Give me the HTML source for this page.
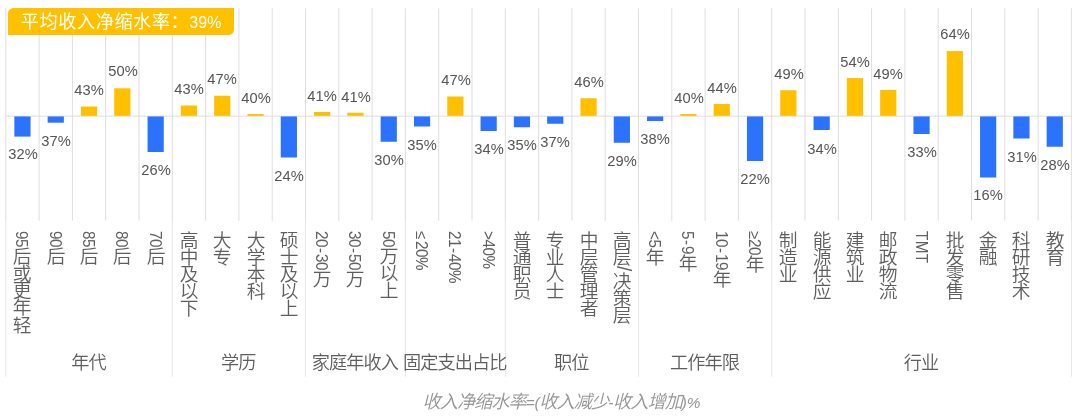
<!DOCTYPE html>
<html lang="zh-CN"><head><meta charset="utf-8"><title>收入净缩水率</title>
<style>
html,body{margin:0;padding:0;background:#fff;}
body{width:1080px;height:420px;position:relative;overflow:hidden;font-family:"Liberation Sans","Noto Sans CJK SC",sans-serif;color:#5e5e5e;}
svg{position:absolute;left:0;top:0;}
.w{position:absolute;left:0;top:0;width:1080px;height:420px;will-change:transform;}
.v{position:absolute;color:#555;font-size:15.3px;line-height:14px;width:60px;margin-left:-30px;text-align:center;white-space:nowrap;transform:scaleX(.96);}
.c{position:absolute;top:231.3px;writing-mode:vertical-rl;text-orientation:mixed;font-size:18.2px;line-height:20px;width:20px;margin-left:-10px;white-space:nowrap;font-weight:350;letter-spacing:-1.1px;transform:scaleX(1.03);}
.c .l{color:#606060;font-size:15.2px;letter-spacing:-0.4px;position:relative;left:1.4px;}
.c .h{margin:1.1px 0;}
.c .e{margin-bottom:2px;}
.c .t{letter-spacing:.4px;}
.c .s{font-size:19px;letter-spacing:1.4px;left:3px;}
.grp{position:absolute;top:352px;height:22px;line-height:22px;font-size:18.2px;letter-spacing:-0.9px;padding-right:1.2px;box-sizing:border-box;white-space:nowrap;font-weight:350;display:flex;justify-content:center;}
.badge{position:absolute;left:7.8px;top:7.9px;width:226.2px;height:27.2px;background:#FFC000;border-radius:5.5px 0 5.5px 0;color:#fff;font-size:18.2px;letter-spacing:.55px;line-height:27px;white-space:nowrap;font-weight:400;}
.badge span{position:absolute;left:12.9px;top:1px;}
.badge i{font-style:normal;font-size:16px;letter-spacing:0;}
.note{position:absolute;left:422.5px;top:391px;font-size:18.2px;letter-spacing:-1.0px;line-height:22px;font-style:italic;color:#959595;white-space:nowrap;font-weight:350;}
.note .l{font-size:15.4px;letter-spacing:-0.2px;}
</style></head><body><div class="w">
<svg width="1080" height="420" viewBox="0 0 1080 420">
<g fill="#DEDEDE">
<rect x="5.30" y="8.3" width="1" height="212.4"/>
<rect x="5.30" y="220.7" width="1" height="156.0" fill="#E6E6E6"/>
<rect x="38.60" y="8.3" width="1" height="212.4"/>
<rect x="71.90" y="8.3" width="1" height="212.4"/>
<rect x="105.20" y="8.3" width="1" height="212.4"/>
<rect x="138.50" y="8.3" width="1" height="212.4"/>
<rect x="171.80" y="8.3" width="1" height="212.4"/>
<rect x="171.80" y="220.7" width="1" height="156.0" fill="#E6E6E6"/>
<rect x="205.10" y="8.3" width="1" height="212.4"/>
<rect x="238.40" y="8.3" width="1" height="212.4"/>
<rect x="271.70" y="8.3" width="1" height="212.4"/>
<rect x="305.00" y="8.3" width="1" height="212.4"/>
<rect x="305.00" y="220.7" width="1" height="156.0" fill="#E6E6E6"/>
<rect x="338.30" y="8.3" width="1" height="212.4"/>
<rect x="371.60" y="8.3" width="1" height="212.4"/>
<rect x="404.90" y="8.3" width="1" height="212.4"/>
<rect x="404.90" y="220.7" width="1" height="156.0" fill="#E6E6E6"/>
<rect x="438.20" y="8.3" width="1" height="212.4"/>
<rect x="471.50" y="8.3" width="1" height="212.4"/>
<rect x="504.80" y="8.3" width="1" height="212.4"/>
<rect x="504.80" y="220.7" width="1" height="156.0" fill="#E6E6E6"/>
<rect x="538.10" y="8.3" width="1" height="212.4"/>
<rect x="571.40" y="8.3" width="1" height="212.4"/>
<rect x="604.70" y="8.3" width="1" height="212.4"/>
<rect x="638.00" y="8.3" width="1" height="212.4"/>
<rect x="638.00" y="220.7" width="1" height="156.0" fill="#E6E6E6"/>
<rect x="671.30" y="8.3" width="1" height="212.4"/>
<rect x="704.60" y="8.3" width="1" height="212.4"/>
<rect x="737.90" y="8.3" width="1" height="212.4"/>
<rect x="771.20" y="8.3" width="1" height="212.4"/>
<rect x="771.20" y="220.7" width="1" height="156.0" fill="#E6E6E6"/>
<rect x="804.50" y="8.3" width="1" height="212.4"/>
<rect x="837.80" y="8.3" width="1" height="212.4"/>
<rect x="871.10" y="8.3" width="1" height="212.4"/>
<rect x="904.40" y="8.3" width="1" height="212.4"/>
<rect x="937.70" y="8.3" width="1" height="212.4"/>
<rect x="971.00" y="8.3" width="1" height="212.4"/>
<rect x="1004.30" y="8.3" width="1" height="212.4"/>
<rect x="1037.60" y="8.3" width="1" height="212.4"/>
<rect x="1070.90" y="8.3" width="1" height="212.4"/>
<rect x="1070.90" y="220.7" width="1" height="156.0" fill="#E6E6E6"/>
<rect x="5.30" y="115.65" width="1066.60" height="1"/>
</g>
<g fill="#FFC000"><rect x="80.95" y="106.50" width="16.2" height="9.35"/><rect x="114.25" y="88.30" width="16.2" height="27.55"/><rect x="180.85" y="105.50" width="16.2" height="10.35"/><rect x="214.15" y="95.75" width="16.2" height="20.10"/><rect x="247.45" y="114.00" width="16.2" height="1.85"/><rect x="314.05" y="112.00" width="16.2" height="3.85"/><rect x="347.35" y="112.75" width="16.2" height="3.10"/><rect x="447.25" y="96.50" width="16.2" height="19.35"/><rect x="580.45" y="98.25" width="16.2" height="17.60"/><rect x="680.35" y="114.00" width="16.2" height="1.85"/><rect x="713.65" y="104.00" width="16.2" height="11.85"/><rect x="780.25" y="90.25" width="16.2" height="25.60"/><rect x="846.85" y="78.00" width="16.2" height="37.85"/><rect x="880.15" y="90.00" width="16.2" height="25.85"/><rect x="946.75" y="51.10" width="16.2" height="64.75"/></g>
<g fill="#2B72FF"><rect x="14.35" y="116.45" width="16.2" height="20.15"/><rect x="47.65" y="116.45" width="16.2" height="6.25"/><rect x="147.55" y="116.45" width="16.2" height="35.55"/><rect x="280.75" y="116.45" width="16.2" height="41.05"/><rect x="380.65" y="116.45" width="16.2" height="25.30"/><rect x="413.95" y="116.45" width="16.2" height="10.05"/><rect x="480.55" y="116.45" width="16.2" height="14.55"/><rect x="513.85" y="116.45" width="16.2" height="10.80"/><rect x="547.15" y="116.45" width="16.2" height="7.30"/><rect x="613.75" y="116.45" width="16.2" height="26.30"/><rect x="647.05" y="116.45" width="16.2" height="4.55"/><rect x="746.95" y="116.45" width="16.2" height="44.55"/><rect x="813.55" y="116.45" width="16.2" height="13.55"/><rect x="913.45" y="116.45" width="16.2" height="17.55"/><rect x="980.05" y="116.45" width="16.2" height="61.05"/><rect x="1013.35" y="116.45" width="16.2" height="22.05"/><rect x="1046.65" y="116.45" width="16.2" height="30.30"/></g>
</svg>
<div class="v" style="left:22.6px;top:147.0px">32%</div>
<div class="v" style="left:55.9px;top:134.0px">37%</div>
<div class="v" style="left:89.2px;top:83.0px">43%</div>
<div class="v" style="left:122.5px;top:64.0px">50%</div>
<div class="v" style="left:155.8px;top:163.0px">26%</div>
<div class="v" style="left:189.1px;top:82.0px">43%</div>
<div class="v" style="left:222.4px;top:72.0px">47%</div>
<div class="v" style="left:255.7px;top:91.0px">40%</div>
<div class="v" style="left:289.0px;top:169.0px">24%</div>
<div class="v" style="left:322.3px;top:89.0px">41%</div>
<div class="v" style="left:355.6px;top:90.0px">41%</div>
<div class="v" style="left:388.9px;top:153.0px">30%</div>
<div class="v" style="left:422.2px;top:138.0px">35%</div>
<div class="v" style="left:455.5px;top:73.0px">47%</div>
<div class="v" style="left:488.8px;top:142.0px">34%</div>
<div class="v" style="left:522.1px;top:138.0px">35%</div>
<div class="v" style="left:555.4px;top:135.0px">37%</div>
<div class="v" style="left:588.8px;top:75.0px">46%</div>
<div class="v" style="left:622.0px;top:154.0px">29%</div>
<div class="v" style="left:655.3px;top:132.0px">38%</div>
<div class="v" style="left:688.6px;top:91.0px">40%</div>
<div class="v" style="left:721.9px;top:81.0px">44%</div>
<div class="v" style="left:755.2px;top:172.0px">22%</div>
<div class="v" style="left:788.5px;top:67.0px">49%</div>
<div class="v" style="left:821.8px;top:142.0px">34%</div>
<div class="v" style="left:855.1px;top:55.0px">54%</div>
<div class="v" style="left:888.4px;top:67.0px">49%</div>
<div class="v" style="left:921.7px;top:145.0px">33%</div>
<div class="v" style="left:955.0px;top:27.0px">64%</div>
<div class="v" style="left:988.3px;top:188.0px">16%</div>
<div class="v" style="left:1021.6px;top:150.0px">31%</div>
<div class="v" style="left:1054.9px;top:158.0px">28%</div>
<div class="c" style="left:20.4px"><span class="l">95</span>后或更年轻</div>
<div class="c" style="left:53.7px"><span class="l">90</span>后</div>
<div class="c" style="left:87.0px"><span class="l">85</span>后</div>
<div class="c" style="left:120.3px"><span class="l">80</span>后</div>
<div class="c" style="left:153.7px"><span class="l">70</span>后</div>
<div class="c" style="left:186.9px">高中及以下</div>
<div class="c" style="left:220.2px">大专</div>
<div class="c" style="left:253.5px">大学本科</div>
<div class="c" style="left:286.8px">硕士及以上</div>
<div class="c" style="left:320.1px"><span class="l">20<span class="h">-</span>30</span>万</div>
<div class="c" style="left:353.4px"><span class="l">30<span class="h">-</span>50</span>万</div>
<div class="c" style="left:386.8px"><span class="l">50</span>万以上</div>
<div class="c" style="left:420.0px"><span class="l"><span class="e">≤</span>20%</span></div>
<div class="c" style="left:453.3px"><span class="l">21<span class="h">-</span>40%</span></div>
<div class="c" style="left:486.6px"><span class="l">>40%</span></div>
<div class="c" style="left:519.9px">普通职员</div>
<div class="c" style="left:553.2px">专业人士</div>
<div class="c" style="left:586.5px">中层管理者</div>
<div class="c" style="left:619.8px">高层<span class="l s">/</span>决策层</div>
<div class="c" style="left:653.1px"><span class="l"><5</span>年</div>
<div class="c" style="left:686.4px"><span class="l">5<span class="h">-</span>9</span>年</div>
<div class="c" style="left:719.7px"><span class="l">10<span class="h">-</span>19</span>年</div>
<div class="c" style="left:753.0px"><span class="l">≥20</span>年</div>
<div class="c" style="left:786.3px">制造业</div>
<div class="c" style="left:819.6px">能源供应</div>
<div class="c" style="left:852.9px">建筑业</div>
<div class="c" style="left:886.2px">邮政物流</div>
<div class="c" style="left:919.5px"><span class="l t">TMT</span></div>
<div class="c" style="left:952.8px">批发零售</div>
<div class="c" style="left:986.1px">金融</div>
<div class="c" style="left:1019.4px">科研技术</div>
<div class="c" style="left:1052.7px">教育</div>
<div class="grp" style="left:5.8px;width:166.5px">年代</div>
<div class="grp" style="left:172.3px;width:133.2px">学历</div>
<div class="grp" style="left:305.5px;width:99.9px">家庭年收入</div>
<div class="grp" style="left:405.4px;width:99.9px">固定支出占比</div>
<div class="grp" style="left:505.3px;width:133.2px">职位</div>
<div class="grp" style="left:638.5px;width:133.2px">工作年限</div>
<div class="grp" style="left:771.7px;width:299.7px">行业</div>
<div class="badge"><span>平均收入净缩水率：<i>39%</i></span></div>
<div class="note">收入净缩水率<span class="l">=(</span>收入减少<span class="l">-</span>收入增加<span class="l">)%</span></div>
</div></body></html>
